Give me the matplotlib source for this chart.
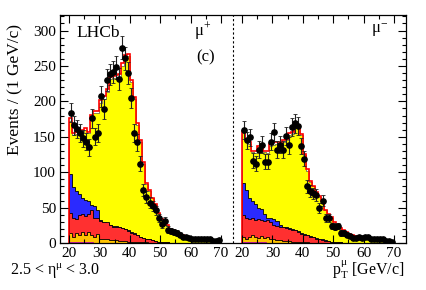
import numpy as np
import matplotlib
matplotlib.use('Agg')
import matplotlib.pyplot as plt
from matplotlib.ticker import MultipleLocator, FixedLocator

plt.rcParams['font.family'] = ['Liberation Serif', 'DejaVu Serif']
plt.rcParams['mathtext.fontset'] = 'custom'
plt.rcParams['mathtext.rm'] = 'Liberation Serif'
plt.rcParams['mathtext.it'] = 'Liberation Serif:italic'

# bins: 1 GeV from 20 to 70
bin_edges = np.arange(20, 71)
tick_values = [20, 30, 40, 50, 60, 70]
tick_labels = ['20', '30', '40', '50', '60', '70']

# ---- mu+ panel ----
data_plus = [184, 166, 161, 155, 148, 143, 135, 176, 150, 155,
             207, 189, 230, 238, 241, 248, 232, 276, 261, 240,
             205, 155, 142, 112, 75, 65, 57, 52, 46, 35,
             27, 31, 19, 17, 16, 14, 12, 9, 8, 7,
             6, 6, 6, 5, 5, 5, 6, 3, 3, 4]
total_plus = [176, 155, 157, 158, 160, 162, 157, 181, 186, 187,
              202, 207, 217, 234, 236, 237, 238, 254, 265, 267,
              230, 206, 169, 145, 114, 85, 75, 64, 55, 43,
              34, 28, 25, 20, 18, 14, 12, 11, 9, 8,
              7, 6, 5, 5, 4, 4, 3, 3, 2, 2]
gap_plus = [3, 2, 3, 3, 4, 3, 2, 4, 3, 3, 4, 3, 4, 3, 3, 4, 3, 4, 4, 3,
            3, 3, 2, 3, 2, 2, 2, 1, 1, 1, 1, 1, 1, 1, 1, 1, 1, 0, 0, 0,
            0, 0, 0, 0, 0, 0, 0, 0, 0, 0]
blue_plus = [98, 79, 73, 69, 64, 61, 59, 54, 52, 46,
             32, 29, 28, 25, 24, 24, 23, 21, 20, 18,
             16, 14, 11, 9, 7, 6, 5, 4, 3, 2,
             2, 1, 1] + [0] * 17
red_plus = [42, 35, 34, 39, 41, 38, 41, 46, 36, 35,
            31, 30, 30, 26, 23, 23, 22, 21, 20, 17,
            14, 13, 11, 9, 7, 6, 5, 4, 3, 2,
            2, 1, 1] + [0] * 17
orange_plus = [14, 9, 14, 12, 16, 11, 15, 12, 9, 13,
               6, 5, 5, 4, 4, 4, 3, 3, 3, 2,
               2, 2, 1, 1, 1, 1] + [0] * 24
magenta_plus = [2, 2, 2, 1, 1, 1, 1, 1] + [0] * 42

# ---- mu- panel ----
data_minus = [160, 145, 149, 116, 112, 132, 139, 115, 115, 143,
              157, 132, 139, 132, 151, 138, 164, 169, 165, 137,
              119, 80, 73, 70, 68, 50, 60, 35, 35, 24,
              23, 24, 14, 14, 12, 10, 7, 7, 8, 7,
              8, 8, 5, 5, 6, 6, 6, 3, 3, 1]
total_minus = [158, 145, 143, 130, 130, 137, 140, 130, 130, 140,
               142, 142, 142, 145, 147, 155, 157, 166, 167, 154,
               126, 104, 88, 81, 72, 66, 60, 47, 41, 37,
               29, 26, 21, 18, 16, 13, 11, 10, 9, 8,
               8, 7, 6, 5, 5, 4, 4, 3, 2, 2]
gap_minus = [2, 2, 3, 2, 3, 2, 3, 2, 3, 3, 3, 2, 3, 3, 2, 3, 3, 3, 2, 2,
             2, 2, 2, 1, 2, 1, 2, 1, 1, 1, 1, 1, 1, 1, 1, 0, 0, 0, 0, 0,
             0, 0, 0, 0, 0, 0, 0, 0, 0, 0]
blue_minus = [85, 75, 64, 60, 55, 50, 48, 41, 36, 35,
              34, 31, 25, 23, 22, 21, 20, 19, 17, 14,
              13, 12, 10, 9, 7, 6, 5, 4, 3, 2,
              2, 1, 1] + [0] * 17
red_minus = [39, 36, 34, 35, 33, 34, 32, 31, 32, 29,
             26, 24, 23, 22, 21, 20, 19, 18, 16, 13,
             12, 11, 9, 8, 6, 5, 4, 3, 3, 2,
             2, 1, 1] + [0] * 17
orange_minus = [8, 6, 9, 12, 8, 7, 10, 7, 9, 6,
                5, 4, 4, 3, 3, 3, 2, 2, 2, 2,
                1, 1] + [0] * 28
magenta_minus = [2, 2, 2, 2, 1, 1, 1, 1] + [0] * 42

OFFSET = 57  # second panel is drawn shifted along a shared axis

fig = plt.figure(figsize=(4.27, 2.90), dpi=100)
ax = fig.add_axes([60 / 427, 1 - 243 / 290, 346 / 427, 228 / 290])


def draw_panel(off, data, total, gap, blue, red, orange, magenta):
    edges = bin_edges + off
    total = np.asarray(total, float)
    yellow_top = total - np.asarray(gap, float)
    ax.stairs(yellow_top, edges, baseline=0, fill=True, facecolor='#ffff00',
              edgecolor='#9a9a40', lw=0.7)
    ax.stairs(yellow_top, edges, baseline=0, color='#8c8c50', lw=0.7)
    ax.stairs(blue, edges, baseline=0, fill=True, facecolor='#2a2aff',
              edgecolor='black', lw=0.6)
    ax.stairs(red, edges, baseline=0, fill=True, facecolor='#ff3030',
              edgecolor='black', lw=0.6)
    ax.stairs(orange, edges, baseline=0, fill=True, facecolor='#ffc400',
              edgecolor='black', lw=0.6)
    ax.stairs(magenta, edges, baseline=0, fill=True, facecolor='#ff00ff',
              edgecolor='#aa00aa', lw=0.5)
    ax.stairs(total, edges, baseline=0, color='#ff0000', lw=1.2)
    centers = 0.5 * (edges[:-1] + edges[1:])
    d = np.asarray(data, float)
    ax.errorbar(centers, d, yerr=np.sqrt(d), fmt='o', color='black',
                ecolor='#222222', ms=3.8, elinewidth=0.8, capsize=1.2,
                capthick=0.6)


draw_panel(0, data_plus, total_plus, gap_plus, blue_plus, red_plus,
           orange_plus, magenta_plus)
draw_panel(OFFSET, data_minus, total_minus, gap_minus, blue_minus, red_minus,
           orange_minus, magenta_minus)

ax.axvline(17 + OFFSET, color='black', lw=0.8, ls=(0, (2, 2)))

ax.set_xlim(17, 17 + 2 * OFFSET)
ax.set_ylim(0, 322)

xt = tick_values + [v + OFFSET for v in tick_values]
ax.xaxis.set_major_locator(FixedLocator(xt))
ax.set_xticklabels(tick_labels + tick_labels)
xminor = [v + 5 for v in tick_values[:-1]] + [v + 5 + OFFSET for v in tick_values[:-1]]
ax.xaxis.set_minor_locator(FixedLocator(xminor))
ax.yaxis.set_major_locator(MultipleLocator(50))
ax.yaxis.set_minor_locator(MultipleLocator(10))
ax.tick_params(which='both', direction='in', top=True, right=True,
               labelsize=11, pad=3)
ax.tick_params(which='major', length=6, width=0.8)
ax.tick_params(which='minor', length=3, width=0.8)
for s in ax.spines.values():
    s.set_linewidth(0.9)

ax.text(22.3, 297, 'LHCb', fontsize=12.5, va='center', ha='left')
ax.text(61.0, 300, r'μ$^{+}$', fontsize=12, va='center', ha='left')
ax.text(62.0, 262, '(c)', fontsize=12, va='center', ha='left')
ax.text(119.5, 300, r'μ$^{-}$', fontsize=12, va='center', ha='left')

fig.text(15 / 427, 1 - 24 / 290, 'Events / (1 GeV/c)', rotation=90,
         ha='center', va='top', fontsize=12.5)
fig.text(10 / 427, 1 - 271 / 290, r'2.5 < η$^{\mathrm{μ}}$ < 3.0',
         ha='left', va='center', fontsize=11.5)
fig.text(405 / 427, 1 - 270 / 290, r'p$_{\mathrm{T}}^{\mathrm{μ}}$ [GeV/c]',
         ha='right', va='center', fontsize=11.5)

fig.savefig('out.png', dpi=100)
